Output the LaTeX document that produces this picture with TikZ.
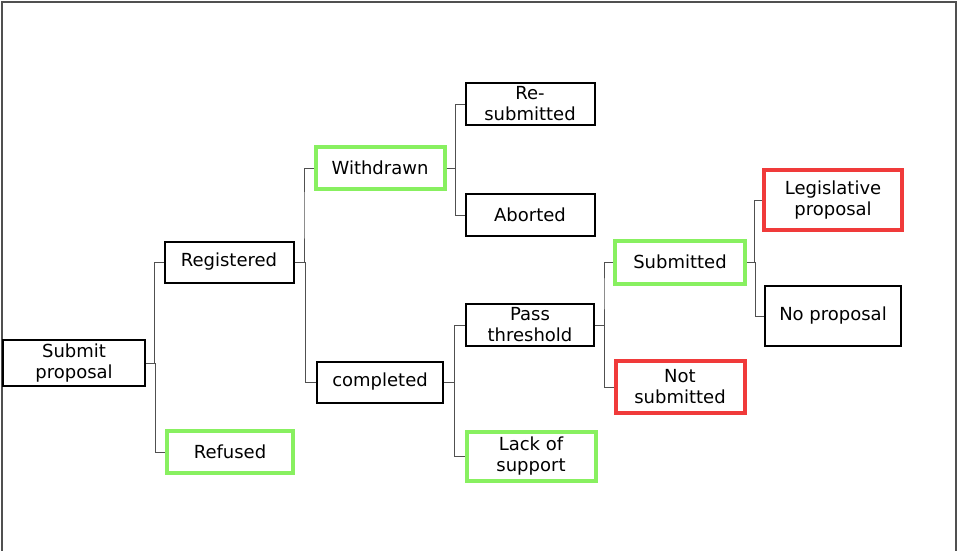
\documentclass[tikz,border=0pt]{standalone}
\usepackage{xcolor}
\usepackage{fontspec}
\setmainfont{DejaVu Sans}
\usepackage{tikz}
\usetikzlibrary{calc}
\definecolor{okgreen}{RGB}{136,240,96}
\definecolor{badred}{RGB}{240,58,58}
\definecolor{wire}{RGB}{80,80,80}

\begin{document}
\begin{tikzpicture}[x=1pt, y=-1pt,
    box/.style={draw=black, line width=2pt, inner sep=0pt, align=center,
      font=\fontsize{18}{21}\selectfont},
    good/.style={box, draw=okgreen, line width=4pt},
    bad/.style={box, draw=badred, line width=4pt},
    conn/.style={draw=wire, line width=1pt}]
      \useasboundingbox (0,0) rectangle (958,551);
      \draw[draw=wire, line width=2pt] (2,551) |- (956,2) -- (956,551);
      \node[box, minimum width=142, minimum height=46] (sp) at (74,363) {Submit\\proposal};
      \node[box, minimum width=129, minimum height=41] (reg) at (229,262) {Registered};
      \node[good, minimum width=126, minimum height=42] (ref) at (230,452) {Refused};
      \node[good, minimum width=129, minimum height=42] (wd) at (380,168) {Withdrawn};
      \node[box, minimum width=126, minimum height=41] (co) at (380,382) {completed};
      \node[box, minimum width=129, minimum height=42] (rs) at (530,104) {Re-\\submitted};
      \node[box, minimum width=129, minimum height=42] (ab) at (530,215) {Aborted};
      \node[box, minimum width=128, minimum height=42] (pt) at (530,325) {Pass\\threshold};
      \node[good, minimum width=129, minimum height=49] (ls) at (531,456) {Lack of\\support};
      \node[good, minimum width=130, minimum height=43] (sb) at (680,262) {Submitted};
      \node[bad, minimum width=129, minimum height=52] (ns) at (680,387) {Not\\submitted};
      \node[bad, minimum width=138, minimum height=60] (lp) at (833,200) {Legislative\\proposal};
      \node[box, minimum width=136, minimum height=60] (np) at (833,316) {No proposal};
      \foreach \a/\b in {sp/reg, sp/ref, reg/wd, reg/co, wd/rs, wd/ab, co/pt, co/ls, pt/sb, pt/ns, sb/lp, sb/np}
      \draw[conn] (\a.east) -| ($(\a.east)!.5!(\b.west)$) |- (\b.west);
    \end{tikzpicture}
\end{document}
